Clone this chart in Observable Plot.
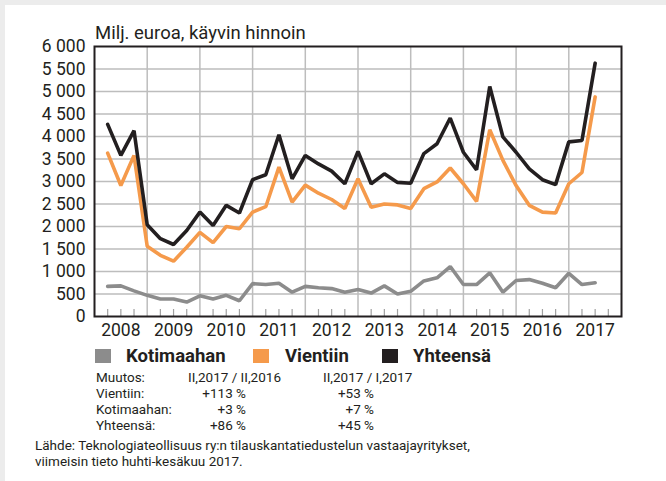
<!DOCTYPE html>
<html><head><meta charset="utf-8">
<script src="https://cdn.jsdelivr.net/npm/d3@7"></script>
<script src="https://cdn.jsdelivr.net/npm/@observablehq/plot@0.6"></script>
<style>
body{margin:0;background:#ececec;}
#wrap{position:relative;width:666px;height:481px;overflow:hidden;font-family:Roboto,sans-serif;color:#231f20;}
#panel{position:absolute;left:5px;top:5px;right:0;bottom:0;background:#fff;}
#chart{position:absolute;left:0;top:0;}
.abs{position:absolute;white-space:nowrap;}
#title{left:95px;top:24.3px;font-size:18.5px;line-height:18.5px;}
.leg{top:347px;font-size:18.5px;line-height:18px;font-weight:bold;}
.sw{position:absolute;top:349px;width:16px;height:14px;}
.tb{font-size:13.5px;line-height:16px;}
.r{text-align:right;}
#src{left:35px;top:437px;font-size:13.5px;line-height:16px;}
</style></head>
<body>
<div id="wrap">
  <div id="panel"></div>
  <div id="chart"></div>
  <div id="title" class="abs"></div>
  <div id="legend"></div>
  <div id="table"></div>
  <div id="src" class="abs"></div>
</div>
<script>
// ---- data ----
const years = [2008, 2009, 2010, 2011, 2012, 2013, 2014, 2015, 2016, 2017];
const quarterNumbers = [1, 2, 3, 4];
const kotimaahan = [
  670, 680, 570, 470,
  390, 390, 320, 460,
  390, 470, 350, 730,
  710, 740, 540, 670,
  640, 620, 540, 600,
  520, 680, 500, 560,
  790, 860, 1110, 710,
  710, 970, 540, 800,
  820, 740, 640, 960,
  710, 750
];
const vientiin = [
  3630, 2910, 3580, 1560,
  1360, 1230, 1540, 1870,
  1640, 2000, 1950, 2320,
  2440, 3320, 2540, 2920,
  2740, 2600, 2400, 3060,
  2430, 2500, 2480, 2400,
  2840, 2990, 3300, 2950,
  2560, 4150, 3470, 2910,
  2470, 2320, 2300, 2950,
  3200, 4880
];
const yhteensa = [
  4270, 3580, 4130, 2040,
  1730, 1600, 1910, 2320,
  2020, 2470, 2300, 3040,
  3150, 4040, 3060, 3580,
  3390, 3230, 2950, 3670,
  2950, 3170, 2980, 2960,
  3620, 3840, 4410, 3650,
  3260, 5110, 3990, 3650,
  3280, 3040, 2930, 3880,
  3910, 5630
];
const yTicks = [0, 500, 1000, 1500, 2000, 2500, 3000, 3500, 4000, 4500, 5000, 5500, 6000];
const titleText = "Milj. euroa, käyvin hinnoin";
const seriesNames = ["Kotimaahan", "Vientiin", "Yhteensä"];
const seriesColors = ["#8c8c8c", "#f59a4b", "#231f20"];
const tableHeader = ["Muutos:", "II,2017 / II,2016", "II,2017 / I,2017"];
const tableRows = [
  ["Vientiin:", "+113 %", "+53 %"],
  ["Kotimaahan:", "+3 %", "+7 %"],
  ["Yhteensä:", "+86 %", "+45 %"]
];
const sourceLines = [
  "Lähde: Teknologiateollisuus ry:n tilauskantatiedustelun vastaajayritykset,",
  "viimeisin tieto huhti-kesäkuu 2017."
];

// ---- build table ----
const periods = [];
years.forEach(y => quarterNumbers.forEach(q => periods.push({year: y, q})));
const rows = kotimaahan.map((v, i) => ({
  t: periods[i].year + periods[i].q / 4,
  kot: v, vie: vientiin[i], yht: yhteensa[i]
}));
const yearStarts = years.slice(1);
const yearMid = years.map(y => y + 0.5);
const quarterTicks = [];
years.forEach(y => quarterNumbers.slice(0, 3).forEach(q => quarterTicks.push(y + q / 4)));
const fmt = d => d >= 1000 ? Math.floor(d / 1000) + " " + String(d % 1000).padStart(3, "0") : String(d);

const chart = Plot.plot({
  width: 666, height: 345,
  marginTop: 46, marginLeft: 94, marginRight: 45, marginBottom: 29,
  style: {fontFamily: "Roboto, sans-serif", fontSize: "17px", color: "#231f20", background: "transparent", overflow: "visible"},
  x: {type: "linear", domain: [2008, 2018]},
  y: {domain: [0, 6000]},
  marks: [
    Plot.ruleY(yTicks.slice(1, -1), {stroke: "#bdbdbd", strokeWidth: 1.5}),
    Plot.ruleX(yearStarts, {stroke: "#bdbdbd", strokeWidth: 1.5}),
    Plot.axisX(quarterTicks, {tickSize: 7, dy: -7, tickFormat: () => "", stroke: "#a0a0a0", strokeWidth: 1.2, label: null}),
    Plot.axisX(yearMid, {tickSize: 0, tickPadding: 7, tickFormat: d => String(Math.floor(d)), label: null, fontSize: 17.5, fill: "#231f20"}),
    Plot.axisY(yTicks, {tickSize: 0, tickPadding: 9, tickFormat: fmt, label: null, fontSize: 17.5, fill: "#231f20"}),
    Plot.line(rows, {x: "t", y: "kot", stroke: seriesColors[0], strokeWidth: 3.6, strokeLinejoin: "miter"}),
    Plot.line(rows, {x: "t", y: "vie", stroke: seriesColors[1], strokeWidth: 3.6, strokeLinejoin: "miter"}),
    Plot.line(rows, {x: "t", y: "yht", stroke: seriesColors[2], strokeWidth: 3.6, strokeLinejoin: "miter"}),
    Plot.frame({stroke: "#231f20", strokeWidth: 2})
  ]
});
document.getElementById("chart").appendChild(chart);
document.getElementById("title").textContent = titleText;

// legend
const leg = document.getElementById("legend");
const swX = [95, 253, 382], txX = [126, 285, 413];
seriesNames.forEach((n, i) => {
  const s = document.createElement("div");
  s.className = "sw"; s.style.left = swX[i] + "px"; s.style.background = seriesColors[i];
  leg.appendChild(s);
  const t = document.createElement("div");
  t.className = "abs leg"; t.style.left = txX[i] + "px"; t.textContent = n;
  leg.appendChild(t);
});

// table
const tb = document.getElementById("table");
function cell(text, top, left, right) {
  const d = document.createElement("div");
  d.className = "abs tb";
  d.style.top = top + "px";
  if (right != null) { d.style.left = (right - 100) + "px"; d.style.width = "100px"; d.classList.add("r"); }
  else d.style.left = left + "px";
  d.textContent = text;
  tb.appendChild(d);
}
const rowTop = [368.5, 384.5, 400.5, 416.5];
cell(tableHeader[0], rowTop[0], 96);
cell(tableHeader[1], rowTop[0], 188);
cell(tableHeader[2], rowTop[0], 323);
tableRows.forEach((r, i) => {
  cell(r[0], rowTop[i + 1], 96);
  cell(r[1], rowTop[i + 1], null, 246);
  cell(r[2], rowTop[i + 1], null, 374);
});
document.getElementById("src").innerHTML = sourceLines.join("<br>");
</script>
</body></html>
